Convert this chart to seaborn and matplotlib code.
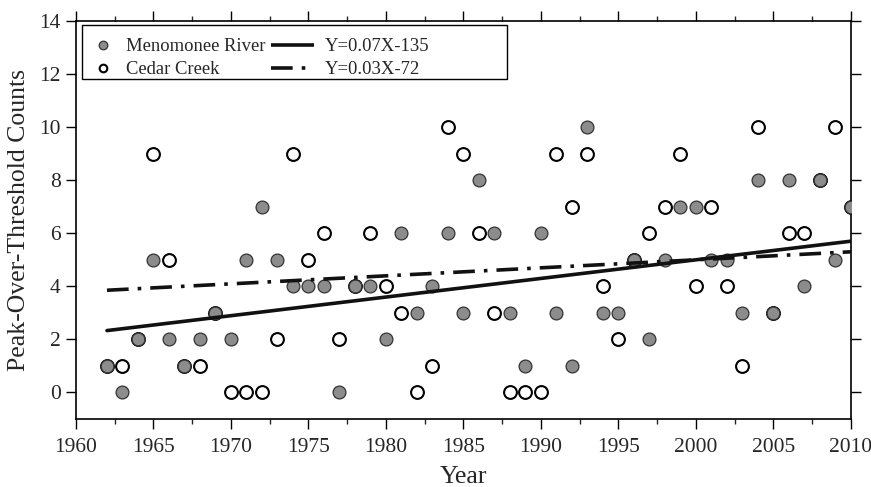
import numpy as np
import pandas as pd
import matplotlib
matplotlib.use("Agg")
import matplotlib.pyplot as plt
import seaborn as sns
from matplotlib.lines import Line2D
from matplotlib.patches import Rectangle
from matplotlib.legend_handler import HandlerBase
from matplotlib.ticker import MultipleLocator

years = list(range(1962, 2011))
menomonee = [1, 0, 2, 5, 2, 1, 2, 3, 2, 5, 7, 5, 4, 4, 4, 0, 4, 4, 2, 6,
             3, 4, 6, 3, 8, 6, 3, 1, 6, 3, 1, 10, 3, 3, 5, 2, 5, 7, 7, 5,
             5, 3, 8, 3, 8, 4, 8, 5, 7]
cedar = [1, 1, 2, 9, 5, 1, 1, 3, 0, 0, 0, 2, 9, 5, 6, 2, 4, 6, 4, 3,
         0, 1, 10, 9, 6, 3, 0, 0, 0, 9, 7, 9, 4, 2, 5, 6, 7, 9, 4, 7,
         4, 1, 10, 3, 6, 6, 8, 10, 7]
series_labels = ["Menomonee River", "Cedar Creek"]
eq_labels = ["Y=0.07X-135", "Y=0.03X-72"]
# trend lines as drawn in the figure (slope, intercept)
trend_slope = [0.0702, 0.0302]
trend_intercept = [-135.4, -55.4]

df = pd.DataFrame({"Year": years, "Menomonee": menomonee, "Cedar": cedar})
yr = np.array(years, dtype=float)
trend = pd.DataFrame({
    "Year": yr,
    "MenTrend": trend_slope[0] * yr + trend_intercept[0],
    "CedTrend": trend_slope[1] * yr + trend_intercept[1],
})

sns.set_style("ticks")
plt.rcParams["font.family"] = ["Liberation Serif", "DejaVu Serif"]

W, H = 871, 487
fig = plt.figure(figsize=(W / 100, H / 100), dpi=100)
ax = fig.add_axes([76 / W, 1 - 419 / H, (851 - 76) / W, (419 - 21) / H])

gray = "#8c8c8c"
edge_gray = "#333333"
DASH = (6, 2.5, 1, 2.5)
sns.scatterplot(data=df, x="Year", y="Cedar", ax=ax, s=85, facecolor="white",
                edgecolor="black", linewidth=1.5, zorder=3, legend=False)
sns.scatterplot(data=df, x="Year", y="Menomonee", ax=ax, s=85, facecolor=gray,
                edgecolor=edge_gray, linewidth=0.9, zorder=4, legend=False)

sns.lineplot(data=trend, x="Year", y="MenTrend", ax=ax, color="#111111",
             lw=2.6, zorder=5)
sns.lineplot(data=trend, x="Year", y="CedTrend", ax=ax, color="#111111",
             lw=2.6, zorder=5)
ax.lines[-1].set_dashes(DASH)

ax.set_xlim(1960, 2010)
ax.set_ylim(-1, 14)
ax.xaxis.set_major_locator(MultipleLocator(5))
ax.xaxis.set_minor_locator(MultipleLocator(2.5))
ax.yaxis.set_major_locator(MultipleLocator(2))
ax.tick_params(which="major", direction="out", length=7, width=1, labelsize=15.5,
               top=True, right=True, color="black", pad=4)
ax.tick_params(axis="x", which="major", pad=6.5)
ax.tick_params(which="minor", direction="out", length=3.5, width=1, top=True)
for sp in ax.spines.values():
    sp.set_visible(True)
    sp.set_linewidth(1.2)
    sp.set_color("black")

ax.set_xlabel("Year", fontsize=18.5, labelpad=7)
ax.set_ylabel("Peak-Over-Threshold Counts", fontsize=18.5, labelpad=7)


class LongLine(HandlerBase):
    def __init__(self, dashes=None):
        super().__init__()
        self.dashes = dashes

    def create_artists(self, legend, orig_handle, xdescent, ydescent, width,
                       height, fontsize, trans):
        y = height / 2 - ydescent
        x0 = -xdescent - 1.18 * fontsize
        x1 = -xdescent + 1.1 * fontsize
        ln = Line2D([x0, x1], [y, y], color=orig_handle.get_color(),
                    lw=orig_handle.get_linewidth(), solid_capstyle="butt",
                    dash_capstyle="butt")
        if self.dashes:
            ln.set_dashes(self.dashes)
        ln.set_transform(trans)
        return [ln]


# legend frame
ax.add_patch(Rectangle((82 / W, 1 - 79 / H), (507 - 82) / W, (79 - 25) / H,
                       transform=fig.transFigure, facecolor="white",
                       edgecolor="black", lw=1.0, zorder=6, clip_on=False))

h_men = Line2D([], [], marker="o", ls="none", markersize=6.2, markerfacecolor=gray,
               markeredgecolor=edge_gray, markeredgewidth=0.9)
h_ced = Line2D([], [], marker="o", ls="none", markersize=5.5, markerfacecolor="white",
               markeredgecolor="black", markeredgewidth=1.5)
h_l1 = Line2D([], [], color="#111111", lw=2.6)
h_l2 = Line2D([], [], color="#111111", lw=2.6)
handles = [h_men, h_ced, h_l1, h_l2]
labels = [series_labels[0], series_labels[1], eq_labels[0], eq_labels[1]]
leg = ax.legend(handles, labels, ncol=2, loc="upper left",
                bbox_to_anchor=(93.7 / W, 1 - 38 / H),
                bbox_transform=fig.transFigure, fontsize=13.4,
                frameon=False, borderaxespad=0, borderpad=0,
                handlelength=1.0, columnspacing=1.5,
                labelspacing=0.34, handletextpad=0.72,
                handler_map={h_l1: LongLine(), h_l2: LongLine(DASH)})
leg.set_zorder(7)

fig.savefig("out.png", dpi=100)
